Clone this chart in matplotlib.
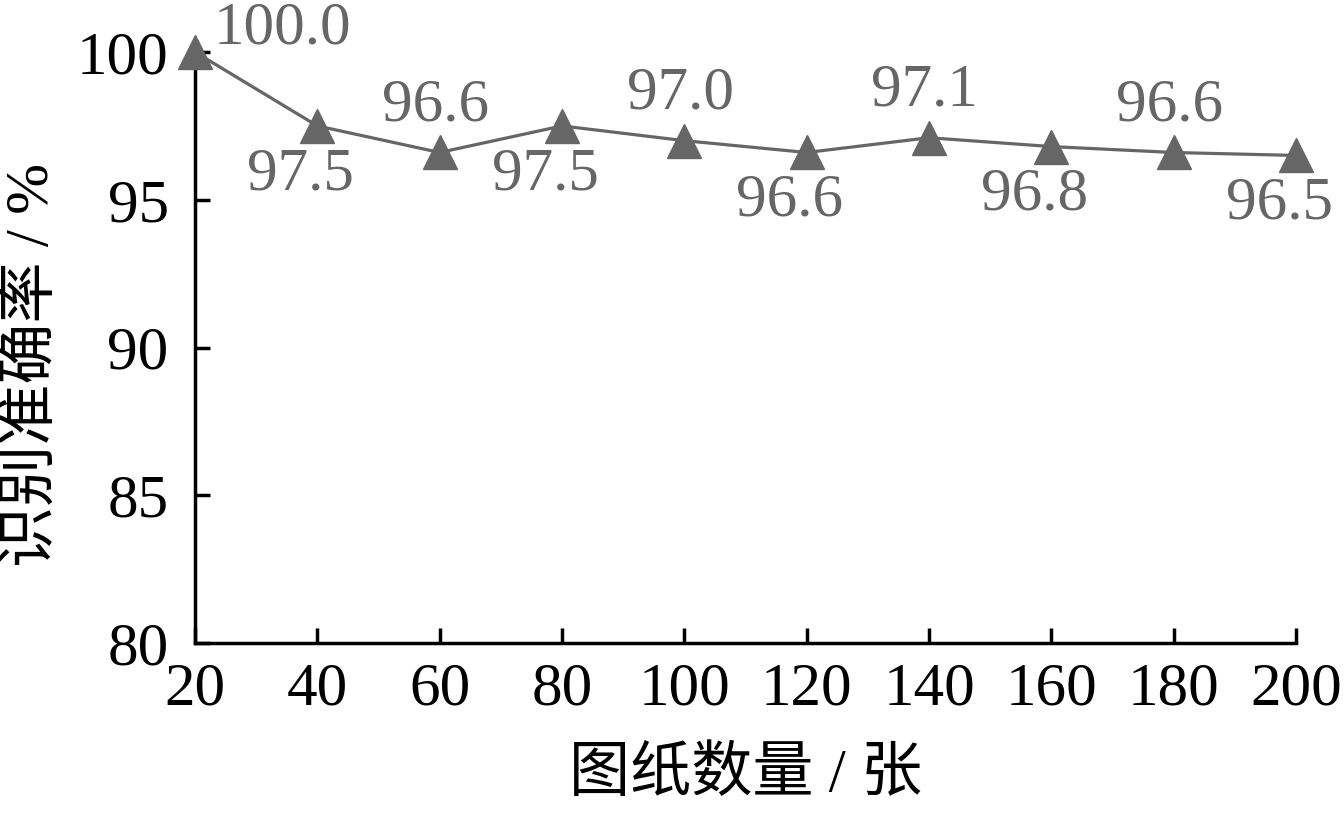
import matplotlib
matplotlib.use('Agg')
import matplotlib.pyplot as plt

plt.rcParams['font.family'] = ['Liberation Serif', 'Noto Sans CJK SC']

sheets = [20, 40, 60, 80, 100, 120, 140, 160, 180, 200]
accuracy = [100.0, 97.5, 96.6, 97.5, 97.0, 96.6, 97.1, 96.8, 96.6, 96.5]
label_above = [True, False, True, False, True, False, True, False, True, False]

gray = '#666666'

fig = plt.figure(figsize=(13.44, 8.13), dpi=100)
ax = fig.add_axes([0.1451, 0.2091, 0.8192, 0.7269])

ax.plot(sheets, accuracy, color=gray, linewidth=2.3, marker='^',
        markersize=25, markerfacecolor=gray, markeredgecolor=gray,
        clip_on=False, zorder=3)

for x, y, up in zip(sheets, accuracy, label_above):
    if up:
        off = (-3, 14)
        va = 'bottom'
    else:
        off = (-12, -15)
        va = 'top'
    if x == 20:
        off = (63, 17)
        va = 'center'
    ax.annotate(f'{y:.1f}', (x, y), xytext=off, textcoords='offset points',
                ha='center', va=va, fontsize=44, color=gray,
                annotation_clip=False)

ax.set_xlim(20, 200)
ax.set_ylim(80, 100)
ax.set_xticks(sheets)
ax.set_yticks([80, 85, 90, 95, 100])

ax.spines['top'].set_visible(False)
ax.spines['right'].set_visible(False)
for s in ['left', 'bottom']:
    ax.spines[s].set_linewidth(2.5)

ax.tick_params(axis='both', direction='in', length=11, width=2.5,
               labelsize=44)
ax.tick_params(axis='x', pad=14)
ax.tick_params(axis='y', pad=19)

ax.set_xlabel('图纸数量 / 张', fontsize=44, labelpad=21)
ax.set_ylabel('识别准确率 / %', fontsize=44, va='center')
ax.yaxis.set_label_coords(-0.147, 0.47)

fig.savefig('out.png', dpi=100)
plt.close()
